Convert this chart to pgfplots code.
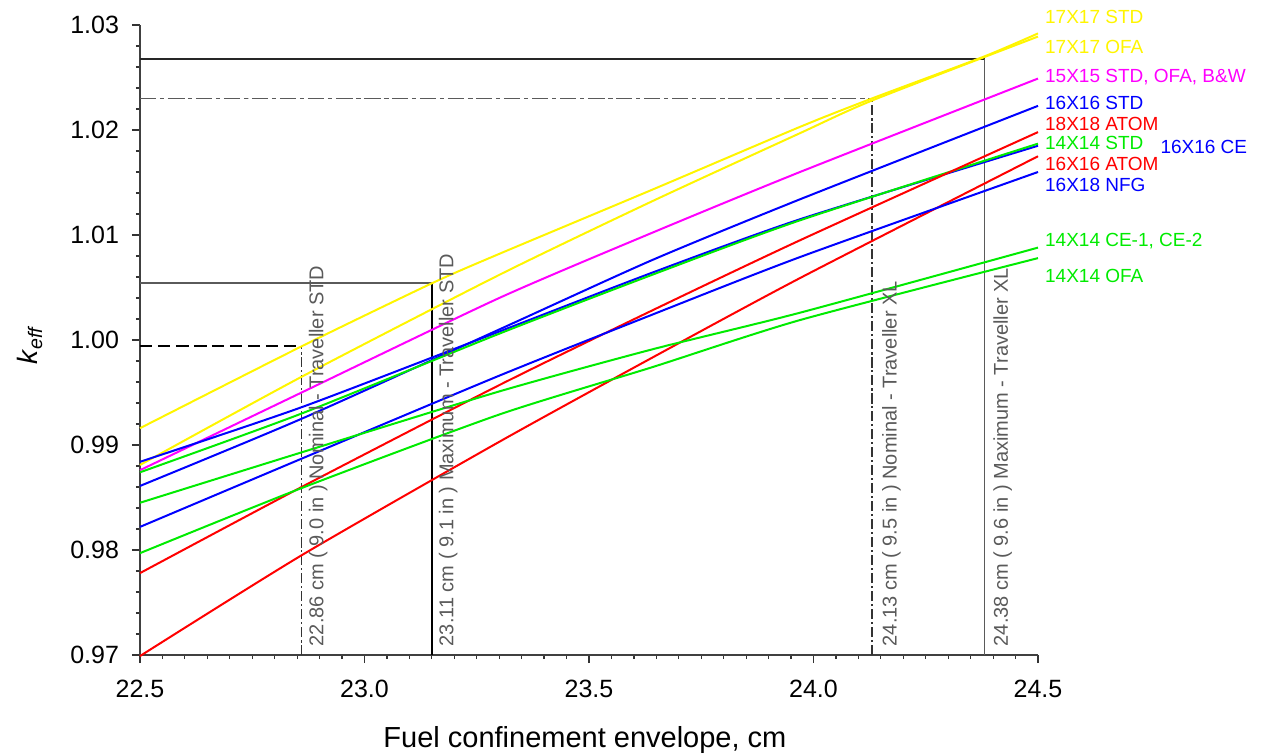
\documentclass[border=0pt]{standalone}
\usepackage{pgfplots}
\pgfplotsset{compat=1.18}
\usepackage{fontspec}
\setmainfont{Liberation Sans}
\definecolor{cyel}{RGB}{255,245,0}
\definecolor{cmag}{RGB}{255,0,255}
\definecolor{cblu}{RGB}{0,0,255}
\definecolor{cred}{RGB}{255,0,0}
\definecolor{cgrn}{RGB}{0,235,0}
\definecolor{refgray}{RGB}{90,90,90}
\begin{document}
\begin{tikzpicture}[x=1pt,y=1pt]
\path[use as bounding box] (-70,-50.5) rectangle (565.5,327.5);
\begin{axis}[
  at={(0,0)}, anchor=south west, scale only axis,
  width=449pt, height=315pt,
  xmin=22.5, xmax=24.5, ymin=0.97, ymax=1.03,
  axis lines=left, axis line style={-, line width=1pt, black!75},
  clip=false,
  xtick={22.5,23,23.5,24,24.5},
  ytick={0.97,0.98,0.99,1.00,1.01,1.02,1.03},
  minor x tick num=9, minor y tick num=4,
  tick align=outside,
  major tick length=4pt, minor tick length=2pt,
  tick style={black!80, line width=0.6pt},
  xticklabel style={yshift=-5pt, /pgf/number format/.cd, fixed, fixed zerofill, precision=1, assume math mode=true},
  yticklabel style={xshift=-3pt, /pgf/number format/.cd, fixed, fixed zerofill, precision=2, assume math mode=true},
  ticklabel style={font=\fontsize{12.5}{13}\selectfont},
  scaled ticks=false,
  xlabel={Fuel confinement envelope, cm},
  xlabel style={font=\fontsize{14.5}{16}\selectfont, at={(rel axis cs:0.4955,-0.135)}, anchor=center},
  ylabel={\textit{k}\textsubscript{\textit{eff}}},
  ylabel style={font=\fontsize{14}{16}\selectfont, at={(rel axis cs:-0.1225,0.492)}, anchor=center, rotate=0},
  every axis plot/.append style={line width=1pt},
]
% reference lines
\addplot[black, line width=0.7pt, dash pattern=on 6pt off 3pt] coordinates {(22.5,0.99943) (22.86,0.99943)};
\addplot[black!80, line width=0.7pt, dash pattern=on 5pt off 1.5pt on 1pt off 1.5pt] coordinates {(22.86,0.97) (22.86,0.99943)};
\addplot[refgray, line width=0.6pt] coordinates {(22.5,1.00543) (23.15,1.00543)};
\addplot[black, line width=0.7pt] coordinates {(23.15,0.97) (23.15,1.00543)};
\addplot[refgray, line width=0.6pt, dash pattern=on 8pt off 2pt on 2pt off 2pt] coordinates {(22.5,1.0230) (24.13,1.0230)};
\addplot[black!80, line width=0.7pt, dash pattern=on 5pt off 1.5pt on 1pt off 1.5pt] coordinates {(24.13,0.97) (24.13,1.0230)};
\addplot[black!85, line width=1pt] coordinates {(22.5,1.0268) (24.38,1.0268)};
\addplot[refgray, line width=0.6pt] coordinates {(24.38,0.97) (24.38,1.0268)};
\pgfplotsset{every axis plot/.append style={smooth, tension=0.4}}
% 17X17 STD
\addplot[cyel] coordinates {(22.5,0.9916) (22.86,0.9994) (23.15,1.0054) (23.3,1.0082) (23.64,1.0143) (23.97,1.0203) (24.13,1.0230) (24.38,1.0270) (24.5,1.0292)};
% 17X17 OFA
\addplot[cyel] coordinates {(22.5,0.9881) (22.86,0.9965) (23.3,1.0062) (23.64,1.0132) (23.97,1.0197) (24.13,1.0228) (24.5,1.0289)};
% 15X15
\addplot[cmag] coordinates {(22.5,0.9876) (22.86,0.9950) (23.3,1.0040) (23.64,1.0102) (23.97,1.0160) (24.5,1.0249)};
% 16X16 STD
\addplot[cblu] coordinates {(22.5,0.9861) (22.86,0.9925) (23.3,1.0010) (23.64,1.0076) (23.97,1.0134) (24.5,1.0223)};
% 16X16 CE
\addplot[cblu] coordinates {(22.5,0.9884) (22.86,0.9936) (23.3,1.0008) (23.64,1.0064) (23.97,1.0115) (24.5,1.0185)};
% 14X14 STD
\addplot[cgrn] coordinates {(22.5,0.9874) (22.86,0.9930) (23.3,1.0006) (23.64,1.0062) (23.97,1.0114) (24.5,1.0187)};
% 18X18 ATOM
\addplot[cred] coordinates {(22.5,0.9778) (22.86,0.9860) (23.3,0.9957) (23.64,1.0028) (23.97,1.0095) (24.5,1.0198)};
% 16X16 ATOM
\addplot[cred] coordinates {(22.5,0.9699) (22.86,0.9795) (23.3,0.9903) (23.64,0.9983) (23.97,1.0059) (24.5,1.0175)};
% 16X18 NFG
\addplot[cblu] coordinates {(22.5,0.9822) (22.86,0.9887) (23.3,0.9966) (23.64,1.0024) (23.97,1.0079) (24.5,1.0160)};
% 14X14 CE-1, CE-2
\addplot[cgrn] coordinates {(22.5,0.9845) (22.86,0.9893) (23.3,0.9951) (23.64,0.9991) (23.97,1.0026) (24.5,1.0088)};
% 14X14 OFA
\addplot[cgrn] coordinates {(22.5,0.9797) (22.86,0.9859) (23.3,0.9929) (23.64,0.9974) (23.97,1.0019) (24.5,1.0078)};
% right labels
\begin{scope}[every node/.style={anchor=west, inner sep=0pt, font=\fontsize{9.5}{10}\selectfont}]
\node[text=cyel] at (axis cs:24.515,1.03076) {17X17 STD};
\node[text=cyel] at (axis cs:24.515,1.02790) {17X17 OFA};
\node[text=cmag] at (axis cs:24.515,1.02505) {15X15 STD, OFA, B\&W};
\node[text=cblu] at (axis cs:24.515,1.02257) {16X16 STD};
\node[text=cred] at (axis cs:24.515,1.02057) {18X18 ATOM};
\node[text=cgrn] at (axis cs:24.515,1.01876) {14X14 STD};
\node[text=cblu] at (axis cs:24.772,1.01838) {16X16 CE};
\node[text=cred] at (axis cs:24.515,1.01676) {16X16 ATOM};
\node[text=cblu] at (axis cs:24.515,1.01476) {16X18 NFG};
\node[text=cgrn] at (axis cs:24.515,1.00943) {14X14 CE-1, CE-2};
\node[text=cgrn] at (axis cs:24.515,1.00610) {14X14 OFA};
\end{scope}
% vertical labels
\begin{scope}[every node/.style={rotate=90, anchor=north west, inner sep=0pt, text=refgray, font=\fontsize{10}{11}\selectfont}]
\node at (axis cs:22.875,0.9708) {22.86 cm ( 9.0 in ) Nominal - Traveller STD};
\node at (axis cs:23.165,0.9708) {23.11 cm ( 9.1 in ) Maximum - Traveller STD};
\node at (axis cs:24.152,0.9708) {24.13 cm ( 9.5 in ) Nominal - Traveller XL};
\node at (axis cs:24.400,0.9708) {24.38 cm ( 9.6 in ) Maximum - Traveller XL};
\end{scope}
\end{axis}
\end{tikzpicture}
\end{document}
